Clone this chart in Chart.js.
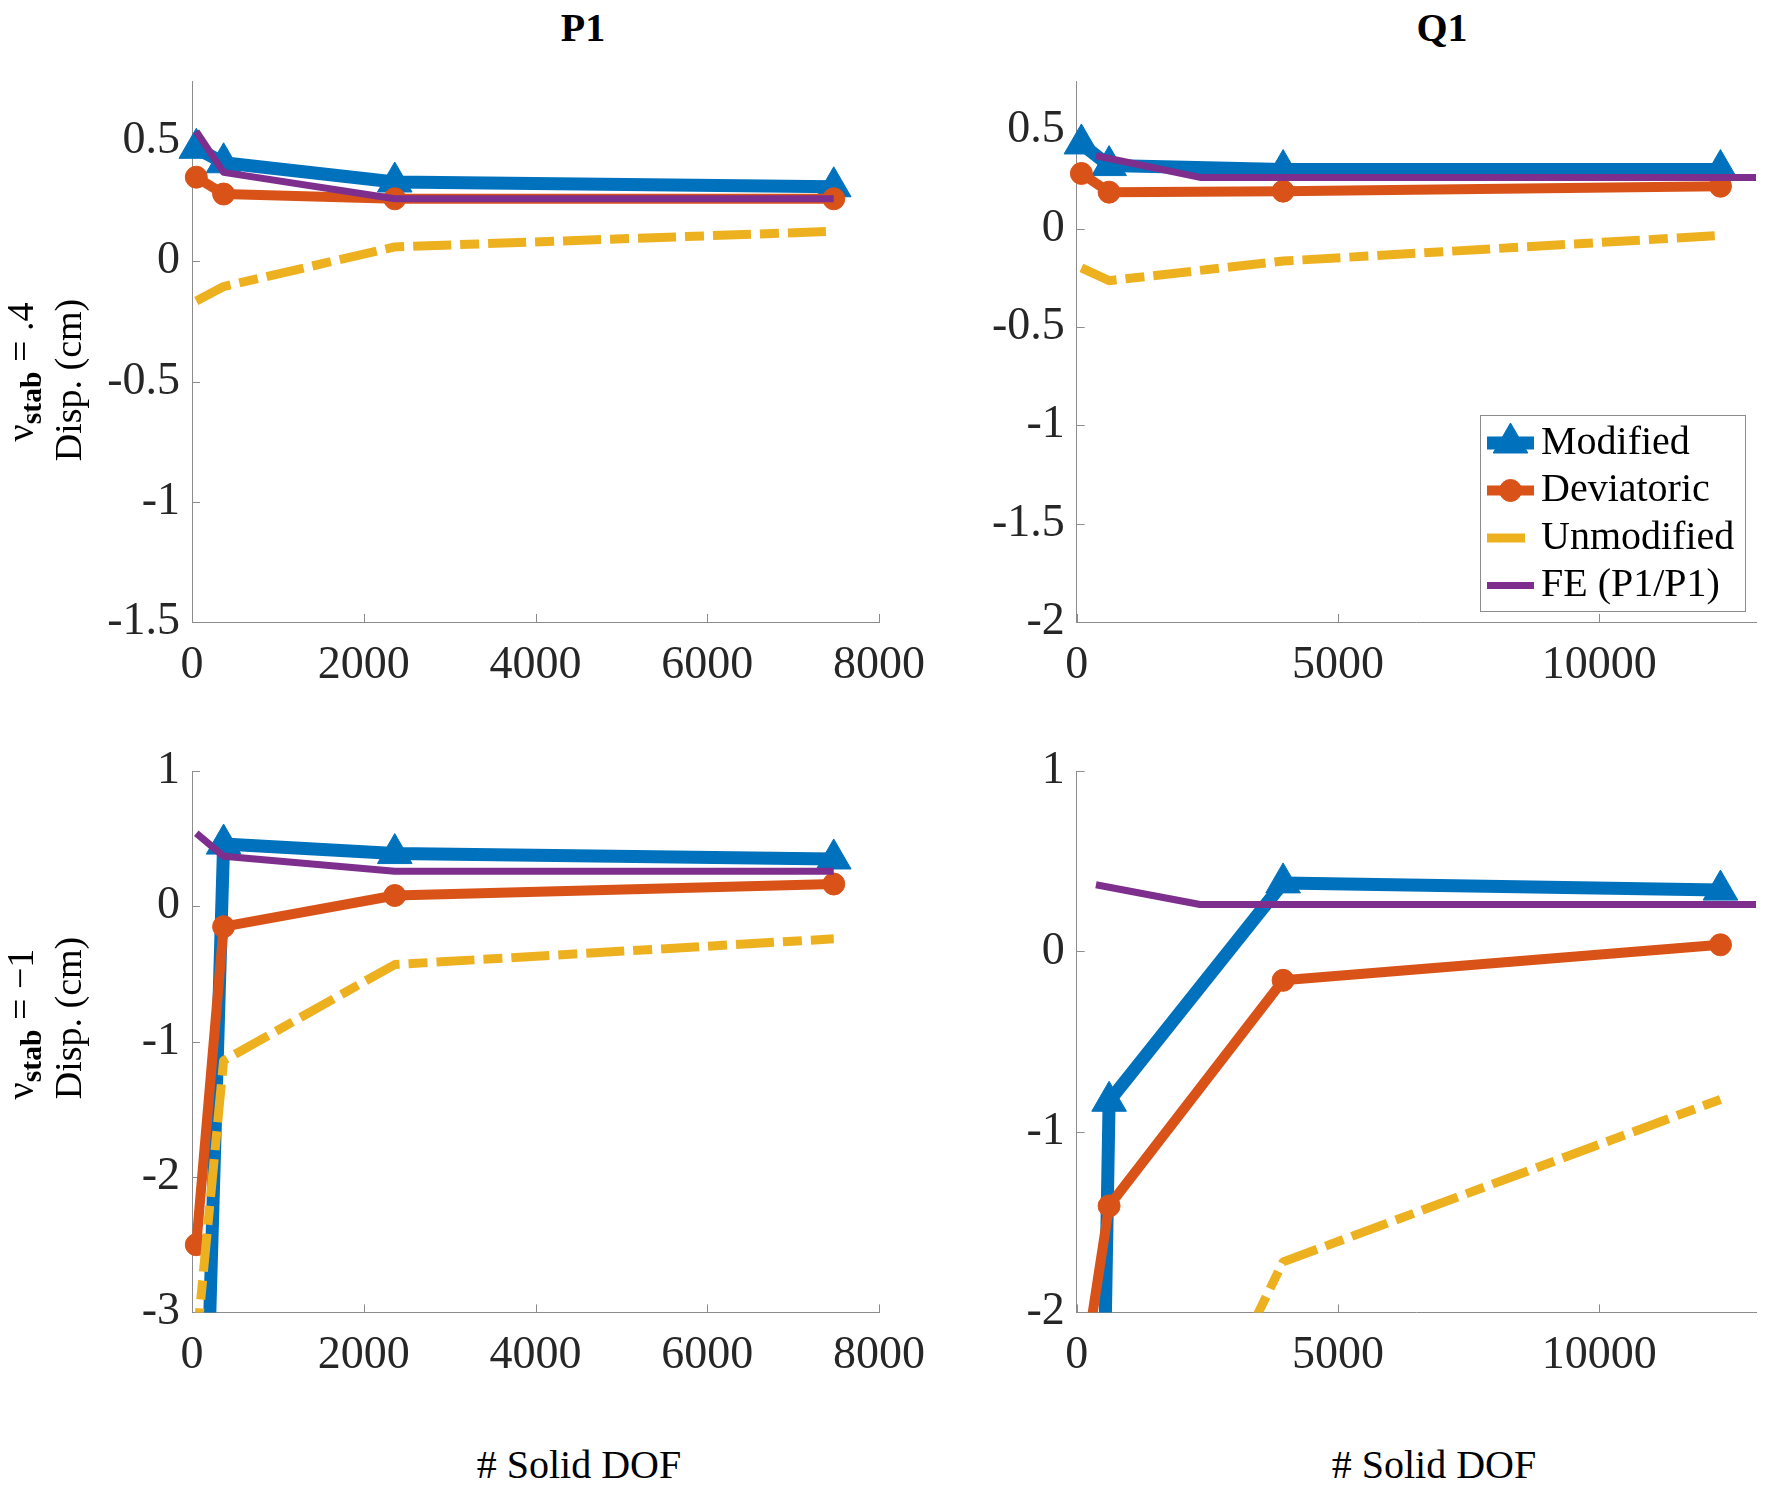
<!DOCTYPE html>
<html>
<head>
<meta charset="utf-8">
<script src="https://cdn.jsdelivr.net/npm/chart.js@4.4.0/dist/chart.umd.min.js"></script>
<style>
  body { margin: 0; background: #fff; }
  #fig { position: relative; width: 1777px; height: 1491px; font-family: "Liberation Serif", "Times New Roman", serif; color: #000; }
  canvas { position: absolute; }
  .lbl { position: absolute; white-space: nowrap; transform: translate(-50%, -50%); line-height: 1; }
  .title { font-size: 40px; font-weight: bold; }
  .xlab { font-size: 40px; }
  .ylab { font-size: 38px; transform: translate(-50%, -50%) rotate(-90deg); }
  .ylab sub { font-size: 0.78em; font-weight: bold; vertical-align: -0.28em; }
</style>
</head>
<body>
<div id="fig">
  <canvas id="cTL" width="960" height="640" style="left:0;top:60px"></canvas>
  <canvas id="cTR" width="897" height="640" style="left:880px;top:60px"></canvas>
  <canvas id="cBL" width="960" height="650" style="left:0;top:740px"></canvas>
  <canvas id="cBR" width="897" height="650" style="left:880px;top:740px"></canvas>

  <div class="lbl title" style="left:583px;top:28px">P1</div>
  <div class="lbl title" style="left:1442px;top:28px">Q1</div>
  <div class="lbl xlab" style="left:579px;top:1465px"># Solid DOF</div>
  <div class="lbl xlab" style="left:1434px;top:1465px"># Solid DOF</div>

  <div class="lbl ylab" style="left:24px;top:372px">ν<sub>stab</sub> = .4</div>
  <div class="lbl ylab" style="left:68px;top:380px">Disp. (cm)</div>
  <div class="lbl ylab" style="left:24px;top:1024px">ν<sub>stab</sub> = −1</div>
  <div class="lbl ylab" style="left:68px;top:1018px">Disp. (cm)</div>
</div>
<script>
// mesh sizes (# solid DOF)
const dofP1 = [50, 368, 2361, 7473];
const dofQ1 = [90, 620, 3950, 12320];
const dofFE = [368, 2361, 7473, 13000];   // FE reference as drawn in the Q1 column

// nu_stab = .4, P1
const modP1a   = [0.47, 0.41, 0.33, 0.31];
const devP1a   = [0.35, 0.28, 0.26, 0.26];
const unmodP1a = [-0.165, -0.105, 0.06, 0.125];
const feP1a    = [0.54, 0.37, 0.26, 0.26];

// nu_stab = .4, Q1
const modQ1a   = [0.43, 0.32, 0.30, 0.30];
const devQ1a   = [0.28, 0.185, 0.19, 0.215];
const unmodQ1a = [-0.2, -0.265, -0.165, -0.035];
const feQ1a    = [0.37, 0.26, 0.26, 0.26];

// nu_stab = -1, P1
const modP1b   = [-6.4, 0.46, 0.39, 0.35];
const devP1b   = [-2.5, -0.15, 0.08, 0.165];
const unmodP1b = [-3.25, -1.14, -0.43, -0.24];
const feP1b    = [0.54, 0.37, 0.26, 0.26];

// nu_stab = -1, Q1
const modQ1b   = [-9.7, -0.83, 0.38, 0.34];
const devQ1b   = [-2.41, -1.41, -0.16, 0.037];
const unmodQ1b = [-4.4, -3.7, -1.72, -0.82];
const feQ1b    = [0.37, 0.26, 0.26, 0.26];

// ticks
const xTicksP1 = [0, 2000, 4000, 6000, 8000];
const xTicksQ1 = [0, 5000, 10000];
const yTicksTL = [-1.5, -1, -0.5, 0, 0.5];
const yTicksTR = [-2, -1.5, -1, -0.5, 0, 0.5];
const yTicksBL = [-3, -2, -1, 0, 1];
const yTicksBR = [-2, -1, 0, 1];

const FONT = '"Liberation Serif", "Times New Roman", serif';
const AXIS = '#8c8c8c';
const CLIP = { left: 40, top: 40, right: 0, bottom: 0 };

const pts = (xs, ys) => ys.map((y, i) => ({ x: xs[i], y: y }));

function datasets(x, mod, dev, unmod, xfe, fe) {
  return [
    { label: 'Modified', data: pts(x, mod), borderColor: '#0072BD', backgroundColor: '#0072BD',
      borderWidth: 13, pointStyle: 'triangle', pointRadius: 20, pointBorderWidth: 1, order: 4, clip: CLIP },
    { label: 'Deviatoric', data: pts(x, dev), borderColor: '#D95319', backgroundColor: '#D95319',
      borderWidth: 10, pointStyle: 'circle', pointRadius: 11, pointBorderWidth: 1, order: 3, clip: CLIP },
    { label: 'Unmodified', data: pts(x, unmod), borderColor: '#EDB120', backgroundColor: '#EDB120',
      borderWidth: 9, borderDash: [38, 9, 19, 9], borderCapStyle: 'butt', pointRadius: 0, order: 2, clip: CLIP },
    { label: 'FE (P1/P1)', data: pts(xfe, fe), borderColor: '#7E2F8E', backgroundColor: '#7E2F8E',
      borderWidth: 7, pointRadius: 0, order: 1, clip: CLIP }
  ];
}

// MATLAB-style ticks pointing into the axes
const inwardTicks = {
  id: 'inwardTicks',
  beforeDatasetsDraw(chart) {
    const { ctx, chartArea: a } = chart;
    const x = chart.scales.x, y = chart.scales.y;
    ctx.save();
    ctx.strokeStyle = AXIS;
    ctx.lineWidth = 1;
    ctx.beginPath();
    x.ticks.forEach(t => {
      const p = Math.round(x.getPixelForValue(t.value)) + 0.5;
      ctx.moveTo(p, a.bottom); ctx.lineTo(p, a.bottom - 8);
    });
    y.ticks.forEach(t => {
      const p = Math.round(y.getPixelForValue(t.value)) + 0.5;
      ctx.moveTo(a.left, p); ctx.lineTo(a.left + 8, p);
    });
    ctx.stroke();
    ctx.restore();
  }
};

const legendBox = {
  id: 'legendBox',
  afterDraw(chart) {
    const ctx = chart.ctx, a = chart.chartArea;
    const bw = 265, bh = 196;
    const bx = a.right - 276, by = a.top + 334;
    ctx.save();
    ctx.fillStyle = '#fff';
    ctx.fillRect(bx, by, bw, bh);
    ctx.strokeStyle = AXIS;
    ctx.lineWidth = 1;
    ctx.strokeRect(Math.round(bx) + 0.5, Math.round(by) + 0.5, bw, bh);
    chart.data.datasets.forEach((ds, i) => {
      const cy = by + 28 + i * 47.5;
      const x0 = bx + 7, x1 = bx + 54;
      ctx.strokeStyle = ds.borderColor;
      ctx.lineWidth = ds.borderWidth;
      ctx.lineCap = 'butt';
      ctx.setLineDash(ds.borderDash || []);
      ctx.beginPath(); ctx.moveTo(x0, cy); ctx.lineTo(x1, cy); ctx.stroke();
      ctx.setLineDash([]);
      if (ds.pointRadius > 0) {
        ctx.fillStyle = ds.backgroundColor;
        ctx.lineWidth = ds.pointBorderWidth;
        Chart.helpers.drawPoint(ctx, { pointStyle: ds.pointStyle, radius: ds.pointRadius, rotation: 0, borderWidth: ds.pointBorderWidth }, (x0 + x1) / 2, cy);
      }
      ctx.fillStyle = '#000';
      ctx.font = '40px ' + FONT;
      ctx.textBaseline = 'middle';
      ctx.textAlign = 'left';
      ctx.fillText(ds.label, bx + 61, cy);
    });
    ctx.restore();
  }
};

function axis(min, max, ticks, fitFn, pad) {
  return {
    type: 'linear', min: min, max: max,
    grid: { display: false, drawTicks: false },
    border: { display: true, color: AXIS, width: 1 },
    ticks: {
      font: { family: FONT, size: 46 }, color: '#262626', padding: pad,
      includeBounds: false, autoSkip: false, maxRotation: 0,
      callback: v => String(v)
    },
    afterBuildTicks: s => { s.ticks = ticks.map(v => ({ value: v })); },
    afterFit: fitFn
  };
}

function panel(id, sets, xmax, xTicks, ymin, ymax, yTicks, yw, padTop, padRight, xh, extra) {
  return new Chart(document.getElementById(id), {
    type: 'line',
    data: { datasets: sets },
    options: {
      responsive: false,
      animation: false,
      layout: { padding: { top: padTop, right: padRight, left: 0, bottom: 0 } },
      elements: { line: { tension: 0, borderJoinStyle: 'round' } },
      plugins: { legend: { display: false }, tooltip: { enabled: false } },
      scales: {
        x: axis(0, xmax, xTicks, s => { s.height = xh; s.paddingLeft = 0; s.paddingRight = 0; }, 16),
        y: axis(ymin, ymax, yTicks, s => { s.width = yw; s.paddingTop = 0; s.paddingBottom = 0; }, 12)
      }
    },
    plugins: [inwardTicks].concat(extra || [])
  });
}

Chart.defaults.font.family = FONT;

panel('cTL', datasets(dofP1, modP1a, devP1a, unmodP1a, dofP1, feP1a),
      8000, xTicksP1, -1.5, 0.75, yTicksTL, 192, 20, 81, 78);
panel('cTR', datasets(dofQ1, modQ1a, devQ1a, unmodQ1a, dofFE, feQ1a),
      13000, xTicksQ1, -2, 0.75, yTicksTR, 196.7, 20, 15, 78, [legendBox]);
panel('cBL', datasets(dofP1, modP1b, devP1b, unmodP1b, dofP1, feP1b),
      8000, xTicksP1, -3, 1, yTicksBL, 192, 31, 81, 77.6);
panel('cBR', datasets(dofQ1, modQ1b, devQ1b, unmodQ1b, dofFE, feQ1b),
      13000, xTicksQ1, -2, 1, yTicksBR, 196.7, 31, 15, 77.6);
</script>
</body>
</html>
